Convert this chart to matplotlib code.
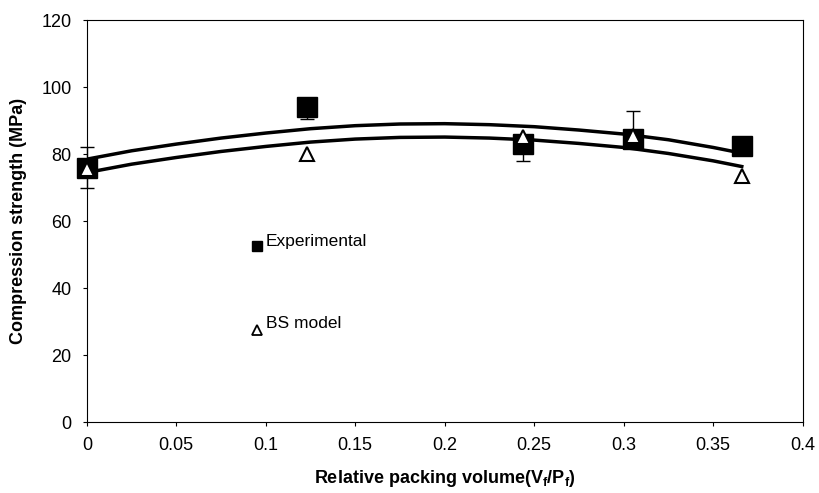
import matplotlib
matplotlib.use('Agg')
import matplotlib.pyplot as plt

plt.rcParams['font.family'] = ['Liberation Sans', 'DejaVu Sans']

# experimental points with error bars
x_exp = [0, 0.123, 0.244, 0.305, 0.366]
y_exp = [76, 94, 83, 84.5, 82.5]
err_lo = [6, 3.5, 5, 0, 0]
err_hi = [6, 0, 2, 8.5, 0]

# BS model points
x_bs = [0, 0.123, 0.244, 0.305, 0.366]
y_bs = [75.5, 80, 85, 85.5, 73.5]

# fitted curves
x_fit = [0, 0.025, 0.05, 0.075, 0.1, 0.125, 0.15, 0.175, 0.2, 0.225, 0.25, 0.275, 0.3, 0.325, 0.35, 0.366]
y_fit_up = [78.5, 81, 83, 84.8, 86.3, 87.6, 88.5, 89, 89.1, 88.8, 88.2, 87.2, 86, 84.3, 82, 80.3]
y_fit_lo = [74.5, 77, 79, 80.8, 82.3, 83.6, 84.5, 85, 85.1, 84.8, 84.2, 83.2, 82, 80.2, 78, 76.3]

fig = plt.figure(figsize=(8.19, 4.93), dpi=100)
ax = fig.add_axes([0.106, 0.144, 0.874, 0.815])

ax.plot(x_fit, y_fit_up, color='black', lw=2.5, zorder=2)
ax.plot(x_fit, y_fit_lo, color='black', lw=2.5, zorder=2)
eb = ax.errorbar(x_exp, y_exp, yerr=[err_lo, err_hi], fmt='none', ecolor='black', elinewidth=1, capsize=5, zorder=3)
for art in eb.lines[1] + eb.lines[2]:
    art.set_clip_on(False)
ax.plot(x_exp, y_exp, 's', color='black', ms=14, zorder=4, clip_on=False)
ax.plot(x_bs, y_bs, '^', mfc='white', mec='black', mew=1.5, ms=10, zorder=5, clip_on=False)

# in-plot legend
ax.plot([0.095], [52.5], 's', color='black', ms=7)
ax.text(0.1, 54, 'Experimental', fontsize=12.5, va='center')
ax.plot([0.095], [27.5], '^', mfc='white', mec='black', mew=1.3, ms=7)
ax.text(0.1, 29.5, 'BS model', fontsize=12.5, va='center')

ax.set_xlim(0, 0.4)
ax.set_ylim(0, 120)
ax.set_xticks([0, 0.05, 0.1, 0.15, 0.2, 0.25, 0.3, 0.35, 0.4])
ax.set_xticklabels(['0', '0.05', '0.1', '0.15', '0.2', '0.25', '0.3', '0.35', '0.4'])
ax.set_yticks(range(0, 121, 20))
ax.tick_params(labelsize=13, direction='out', length=3, pad=8)
ax.set_xlabel('Relative packing volume(V$_\\mathregular{f}$/P$_\\mathregular{f}$)', fontsize=13, fontweight='bold', labelpad=10)
ax.set_ylabel('Compression strength (MPa)', fontsize=13, fontweight='bold', labelpad=10)

fig.savefig('out.png', dpi=100)
